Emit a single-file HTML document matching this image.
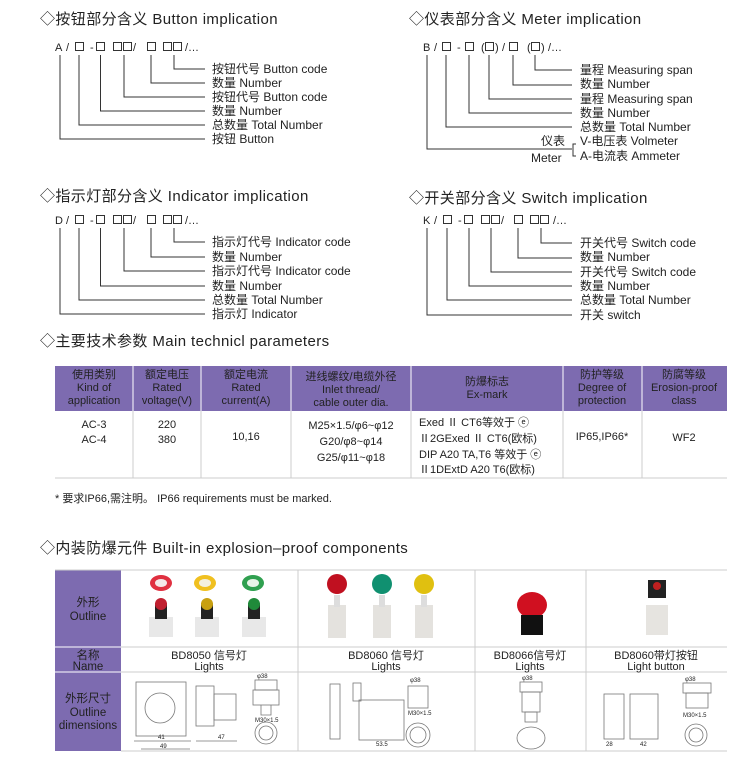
<!DOCTYPE html>
<html><head><meta charset="utf-8"><style>
html,body{margin:0;padding:0;background:#fff;width:750px;height:758px;overflow:hidden}
svg{display:block}
text{font-family:"Liberation Sans","Noto Sans CJK SC",sans-serif;fill:#222}
.t{font-size:15px;letter-spacing:0.4px}
.c{font-size:11px}
.l{font-size:12px}
.h{font-size:11px;fill:#fff}
.b{font-size:11px}
.ln{stroke:#333;stroke-width:1;fill:none}
.bx{stroke:#333;stroke-width:1;fill:none}
.g{stroke:#777;stroke-width:.8;fill:none}
</style></head><body>
<svg width="750" height="758" viewBox="0 0 750 758" xmlns="http://www.w3.org/2000/svg">
<!-- Section 1 -->
<text class="t" x="40" y="24">◇按钮部分含义 Button implication</text>
<g class="c"><text x="55" y="51">A</text><text x="66" y="51">/</text><text x="90" y="51">-</text><text x="133" y="51">/</text><text x="185" y="51">/…</text></g>
<g class="bx"><rect x="75.5" y="42.5" width="8" height="8"/><rect x="96.5" y="42.5" width="8" height="8"/><rect x="113.5" y="42.5" width="8" height="8"/><rect x="123.5" y="42.5" width="8" height="8"/><rect x="147.5" y="42.5" width="8" height="8"/><rect x="163.5" y="42.5" width="8" height="8"/><rect x="173.5" y="42.5" width="8" height="8"/></g>
<g class="ln">
<path d="M60 55V139H205M79 55V125H205M100.5 55V111H205M124 55V97H205M151 55V83H205M174 55V69H205"/>
</g>
<g class="l">
<text x="212" y="73">按钮代号 Button code</text>
<text x="212" y="87">数量 Number</text>
<text x="212" y="101">按钮代号 Button code</text>
<text x="212" y="115">数量 Number</text>
<text x="212" y="129">总数量 Total Number</text>
<text x="212" y="143">按钮 Button</text>
</g>
<!-- Meter -->
<text class="t" x="409" y="24">◇仪表部分含义 Meter implication</text>
<g class="c"><text x="423" y="51">B</text><text x="434" y="51">/</text><text x="457" y="51">-</text><text x="481" y="51">(</text><text x="495" y="51">)</text><text x="502" y="51">/</text><text x="527" y="51">(</text><text x="541" y="51">)</text><text x="548" y="51">/…</text></g>
<g class="bx"><rect x="442.5" y="42.5" width="8" height="8"/><rect x="465.5" y="42.5" width="8" height="8"/><rect x="485.5" y="42.5" width="8" height="8"/><rect x="509.5" y="42.5" width="8" height="8"/><rect x="531.5" y="42.5" width="8" height="8"/></g>
<g class="ln">
<path d="M427 55V149H572M446 55V127H572M469 55V113H572M489 55V99H572M513 55V85H572M535 55V70H572M576 144H573V156H576"/>
</g>
<g class="l">
<text x="580" y="74">量程 Measuring span</text>
<text x="580" y="88">数量 Number</text>
<text x="580" y="103">量程 Measuring span</text>
<text x="580" y="117">数量 Number</text>
<text x="580" y="131">总数量 Total Number</text>
<text x="580" y="145">V-电压表 Volmeter</text>
<text x="580" y="160">A-电流表 Ammeter</text>
<text x="541" y="145">仪表</text>
<text x="531" y="162">Meter</text>
</g>
<!-- Indicator -->
<text class="t" x="40" y="201">◇指示灯部分含义 Indicator implication</text>
<g class="c"><text x="55" y="224">D</text><text x="66" y="224">/</text><text x="90" y="224">-</text><text x="133" y="224">/</text><text x="185" y="224">/…</text></g>
<g class="bx"><rect x="75.5" y="215.5" width="8" height="8"/><rect x="96.5" y="215.5" width="8" height="8"/><rect x="113.5" y="215.5" width="8" height="8"/><rect x="123.5" y="215.5" width="8" height="8"/><rect x="147.5" y="215.5" width="8" height="8"/><rect x="163.5" y="215.5" width="8" height="8"/><rect x="173.5" y="215.5" width="8" height="8"/></g>
<g class="ln">
<path d="M60 228V314H205M79 228V300H205M100.5 228V286H205M124 228V271H205M151 228V257H205M174 228V242H205"/>
</g>
<g class="l">
<text x="212" y="246">指示灯代号 Indicator code</text>
<text x="212" y="261">数量 Number</text>
<text x="212" y="275">指示灯代号 Indicator code</text>
<text x="212" y="290">数量 Number</text>
<text x="212" y="304">总数量 Total Number</text>
<text x="212" y="318">指示灯 Indicator</text>
</g>
<!-- Switch -->
<text class="t" x="409" y="203">◇开关部分含义 Switch implication</text>
<g class="c"><text x="423" y="224">K</text><text x="434" y="224">/</text><text x="458" y="224">-</text><text x="501" y="224">/</text><text x="553" y="224">/…</text></g>
<g class="bx"><rect x="443.5" y="215.5" width="8" height="8"/><rect x="464.5" y="215.5" width="8" height="8"/><rect x="481.5" y="215.5" width="8" height="8"/><rect x="491.5" y="215.5" width="8" height="8"/><rect x="514.5" y="215.5" width="8" height="8"/><rect x="530.5" y="215.5" width="8" height="8"/><rect x="540.5" y="215.5" width="8" height="8"/></g>
<g class="ln">
<path d="M427 228V315H572M447 228V300H572M469 228V286H572M491 228V272H572M518 228V258H572M541 228V243H572"/>
</g>
<g class="l">
<text x="580" y="247">开关代号 Switch code</text>
<text x="580" y="261">数量 Number</text>
<text x="580" y="276">开关代号 Switch code</text>
<text x="580" y="290">数量 Number</text>
<text x="580" y="304">总数量 Total Number</text>
<text x="580" y="319">开关 switch</text>
</g>
<!-- Params -->
<text class="t" x="40" y="346">◇主要技术参数 Main technicl parameters</text>
<rect x="55" y="366" width="672" height="45" fill="#7d6bb0"/>
<g stroke="#fff" stroke-width="1"><path d="M133 366V411M201 366V411M291 366V411M411 366V411M563 366V411M642 366V411"/></g>
<g stroke="#ccc" stroke-width="1"><path d="M133 411V478M201 411V478M291 411V478M411 411V478M563 411V478M642 411V478M55 478H727"/></g>
<g class="h" text-anchor="middle">
<text x="94" y="378">使用类别</text><text x="94" y="391">Kind of</text><text x="94" y="404">application</text>
<text x="167" y="378">额定电压</text><text x="167" y="391">Rated</text><text x="167" y="404">voltage(V)</text>
<text x="246" y="378">额定电流</text><text x="246" y="391">Rated</text><text x="246" y="404">current(A)</text>
<text x="351" y="380">进线螺纹/电缆外径</text><text x="351" y="393">Inlet thread/</text><text x="351" y="406">cable outer dia.</text>
<text x="487" y="385">防爆标志</text><text x="487" y="398">Ex-mark</text>
<text x="602" y="378">防护等级</text><text x="602" y="391">Degree of</text><text x="602" y="404">protection</text>
<text x="684" y="378">防腐等级</text><text x="684" y="391">Erosion-proof</text><text x="684" y="404">class</text>
</g>
<g class="b" text-anchor="middle">
<text x="94" y="428">AC-3</text><text x="94" y="443">AC-4</text>
<text x="167" y="428">220</text><text x="167" y="443">380</text>
<text x="246" y="440">10,16</text>
<text x="351" y="429">M25×1.5/φ6~φ12</text><text x="351" y="445">G20/φ8~φ14</text><text x="351" y="461">G25/φ11~φ18</text>
<text x="602" y="440">IP65,IP66*</text>
<text x="684" y="441">WF2</text>
</g>
<g class="b">
<text x="419" y="426">Exed Ⅱ CT6等效于 ⓔ</text>
<text x="419" y="442">Ⅱ2GExed Ⅱ CT6(欧标)</text>
<text x="419" y="458">DIP A20 TA,T6 等效于 ⓔ</text>
<text x="419" y="473">Ⅱ1DExtD A20 T6(欧标)</text>
</g>
<text class="b" x="55" y="502">* 要求IP66,需注明。 IP66  requirements must be marked.</text>
<!-- Components -->
<text class="t" x="40" y="553">◇内装防爆元件 Built-in explosion–proof components</text>
<rect x="55" y="570" width="66" height="181" fill="#7d6bb0"/>
<g stroke="#ccc" stroke-width="1"><path d="M55 570H727M121 647H727M121 672H727M121 751H727M298 570V751M475 570V751M586 570V751"/></g>
<g stroke="#fff"><path d="M55 647H121M55 672H121"/></g>
<g class="h" text-anchor="middle" style="font-size:11.5px">
<text x="88" y="606">外形</text><text x="88" y="620">Outline</text>
<text x="88" y="659">名称</text><text x="88" y="670">Name</text>
<text x="88" y="702">外形尺寸</text><text x="88" y="716">Outline</text><text x="88" y="729">dimensions</text>
</g>
<g class="b" text-anchor="middle">
<text x="209" y="659">BD8050 信号灯</text><text x="209" y="670">Lights</text>
<text x="386" y="659">BD8060 信号灯</text><text x="386" y="670">Lights</text>
<text x="530" y="659">BD8066信号灯</text><text x="530" y="670">Lights</text>
<text x="656" y="659">BD8060带灯按钮</text><text x="656" y="670">Light button</text>
</g>
<g>
<ellipse cx="161" cy="583" rx="11" ry="8" fill="#e03040"/><ellipse cx="161" cy="583" rx="6" ry="4" fill="#f4e8e8"/>
<ellipse cx="205" cy="583" rx="11" ry="8" fill="#f0c020"/><ellipse cx="205" cy="583" rx="6" ry="4" fill="#f4f0e0"/>
<ellipse cx="253" cy="583" rx="11" ry="8" fill="#30a050"/><ellipse cx="253" cy="583" rx="6" ry="4" fill="#e8f4e8"/>
<rect x="149" y="617" width="24" height="20" fill="#e8e8e8"/><rect x="155" y="603" width="12" height="16" fill="#222"/><circle cx="161" cy="604" r="6" fill="#c02030"/>
<rect x="195" y="617" width="24" height="20" fill="#e8e8e8"/><rect x="201" y="603" width="12" height="16" fill="#222"/><circle cx="207" cy="604" r="6" fill="#c8a010"/>
<rect x="242" y="617" width="24" height="20" fill="#e8e8e8"/><rect x="248" y="603" width="12" height="16" fill="#222"/><circle cx="254" cy="604" r="6" fill="#208a3a"/>
<circle cx="337" cy="584" r="10" fill="#c01020"/><circle cx="382" cy="584" r="10" fill="#109070"/><circle cx="424" cy="584" r="10" fill="#e0c010"/>
<rect x="328" y="605" width="18" height="33" fill="#e4e2de"/><rect x="334" y="595" width="6" height="12" fill="#ddd"/>
<rect x="373" y="605" width="18" height="33" fill="#e4e2de"/><rect x="379" y="595" width="6" height="12" fill="#ddd"/>
<rect x="415" y="605" width="18" height="33" fill="#e4e2de"/><rect x="421" y="595" width="6" height="12" fill="#ddd"/>
<ellipse cx="532" cy="605" rx="15" ry="13" fill="#d01020"/><rect x="521" y="615" width="22" height="20" fill="#111"/>
<rect x="648" y="580" width="18" height="18" fill="#222"/><circle cx="657" cy="586" r="4" fill="#c02020"/><rect x="646" y="605" width="22" height="30" fill="#e6e4e0"/>
</g>
<g class="g">
<rect x="136" y="682" width="50" height="54"/><circle cx="160" cy="708" r="15"/><path d="M134 741H191M141 749H190"/>
<rect x="196" y="686" width="18" height="40"/><rect x="214" y="694" width="22" height="26"/><path d="M196 741H237"/>
<rect x="255" y="680" width="22" height="10"/><rect x="253" y="690" width="26" height="15"/><path d="M261 705V715H271V705"/>
<circle cx="266" cy="733" r="11"/><circle cx="266" cy="733" r="7"/>
<rect x="330" y="684" width="10" height="55"/><rect x="353" y="683" width="8" height="18"/><rect x="359" y="700" width="45" height="40"/>
<rect x="408" y="686" width="20" height="22"/><circle cx="418" cy="735" r="12"/><circle cx="418" cy="735" r="8"/>
<rect x="520" y="682" width="22" height="10"/><rect x="522" y="692" width="18" height="20"/><rect x="525" y="712" width="12" height="10"/>
<ellipse cx="531" cy="738" rx="14" ry="11"/>
<rect x="604" y="694" width="20" height="45"/><rect x="630" y="694" width="28" height="45"/><rect x="683" y="683" width="28" height="10"/><rect x="686" y="693" width="22" height="15"/>
<circle cx="696" cy="735" r="11"/><circle cx="696" cy="735" r="7"/>
</g>
<g style="font-size:6px;fill:#555">
<text x="257" y="678">φ38</text><text x="255" y="722">M30×1.5</text><text x="410" y="682">φ38</text><text x="408" y="715">M30×1.5</text>
<text x="522" y="680">φ38</text><text x="685" y="681">φ38</text><text x="683" y="717">M30×1.5</text>
<text x="158" y="739">41</text><text x="160" y="748">49</text><text x="218" y="739">47</text><text x="376" y="746">53.5</text><text x="606" y="746">28</text><text x="640" y="746">42</text>
</g>
</svg>
</body></html>
